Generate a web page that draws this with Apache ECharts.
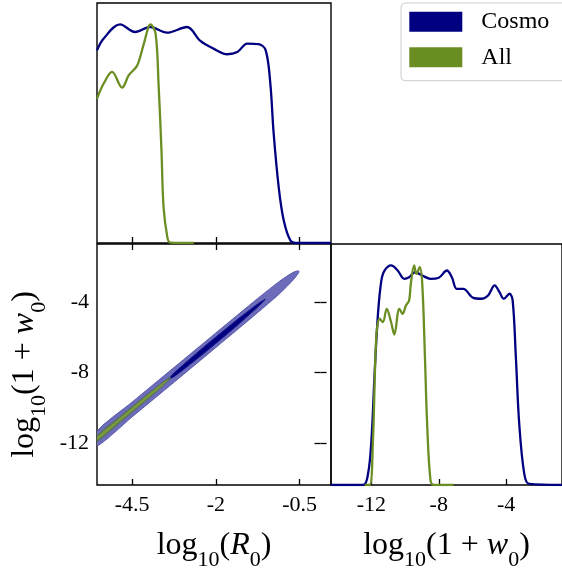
<!DOCTYPE html>
<html><head><meta charset="utf-8">
<script src="https://cdn.jsdelivr.net/npm/echarts@6/dist/echarts.min.js"></script>
<style>html,body{margin:0;padding:0;background:#fff}#c{width:562px;height:579px}</style>
</head><body><div id="c"></div>
<script>
// ---------- data ----------
const seriesNames = ['Cosmo', 'All'];
const seriesColors = ['#000080', '#6b8e23'];

const r0Ticks = [-4.5, -2.5, -0.5];
const r0TickLabels = ['-4.5', '-2', '-0.5'];
const wTicks = [-12, -8, -4];
const wTickLabels = ['-12', '-8', '-4'];
const r0Range = [-5.34, 0.25];
const wRange = [-14.4, -0.68];
const densRange = [0, 1.1];

// 1D marginal of log10(R0)
const cosmoR0X = [-5.34, -5.18, -4.79, -4.43, -4.07, -3.67, -3.19, -2.87, -2.56, -2.23, -1.99, -1.75, -1.48, -1.31, -1.2, -1.12, -1.0, -0.88, -0.72, -0.56, 0.25];
const cosmoR0Y = [0.883, 0.937, 1.002, 0.967, 0.990, 0.964, 0.990, 0.926, 0.891, 0.865, 0.875, 0.914, 0.911, 0.883, 0.732, 0.503, 0.257, 0.104, 0.012, 0.0, 0.0];
const allR0X = [-5.34, -5.18, -4.98, -4.74, -4.58, -4.38, -4.22, -4.06, -3.94, -3.87, -3.80, -3.75, -3.66, -3.59, -3.03];
const allR0Y = [0.662, 0.731, 0.784, 0.712, 0.769, 0.814, 0.914, 1.002, 0.960, 0.731, 0.425, 0.165, 0.027, 0.002, 0.0];

// 1D marginal of log10(1+w0)
const cosmoWX = [-14.4, -12.49, -12.2, -12.0, -11.81, -11.61, -11.41, -11.22, -10.83, -10.44, -10.05, -9.76, -9.41, -8.98, -8.49, -8.0, -7.52, -7.22, -6.93, -6.54, -5.95, -5.47, -5.07, -4.68, -4.39, -4.14, -3.80, -3.61, -3.42, -3.22, -2.92, -2.63, -0.68];
const cosmoWY = [0, 0, 0.051, 0.203, 0.508, 0.781, 0.933, 0.979, 1.002, 0.979, 0.941, 0.948, 0.971, 0.956, 0.941, 0.946, 0.979, 0.948, 0.895, 0.895, 0.854, 0.850, 0.865, 0.911, 0.880, 0.850, 0.873, 0.842, 0.583, 0.279, 0.051, 0.005, 0];
const allWX = [-12.4, -12.1, -11.91, -11.71, -11.51, -11.32, -11.09, -10.83, -10.64, -10.34, -10.15, -9.95, -9.76, -9.66, -9.46, -9.33, -9.13, -8.98, -8.82, -8.69, -8.49, -8.29, -7.12];
const allWY = [0, 0, 0.203, 0.675, 0.759, 0.743, 0.804, 0.743, 0.687, 0.804, 0.781, 0.819, 0.842, 0.918, 1.002, 0.964, 0.994, 0.918, 0.583, 0.279, 0.021, 0, 0];

// 2D contours (log10 R0, log10(1+w0)) vertices
const cosmoOuter = [[-5.34, -11.34], [-4.5, -9.68], [-3.5, -7.71], [-2.5, -5.74], [-1.5, -3.78], [-1.0, -2.84], [-0.75, -2.43], [-0.62, -2.26], [-0.54, -2.21], [-0.51, -2.25], [-0.54, -2.37], [-0.62, -2.63], [-0.75, -2.97], [-1.0, -3.55], [-1.5, -4.58], [-2.5, -6.57], [-3.5, -8.55], [-4.5, -10.52], [-5.34, -12.18]];
const cosmoInner = [[-3.64, -8.40], [-3.5, -8.03], [-3.2, -7.39], [-2.8, -6.57], [-2.4, -5.78], [-2.0, -5.00], [-1.7, -4.45], [-1.5, -4.09], [-1.32, -3.83], [-1.5, -4.27], [-1.7, -4.70], [-2.0, -5.34], [-2.4, -6.14], [-2.8, -6.93], [-3.2, -7.69], [-3.5, -8.23]];
const allOuter = [[-5.34, -11.60], [-4.8, -10.53], [-4.2, -9.36], [-3.8, -8.61], [-3.62, -8.31], [-3.58, -8.29], [-3.62, -8.41], [-3.8, -8.83], [-4.2, -9.66], [-4.8, -10.85], [-5.34, -11.92]];
const allInner = [[-5.34, -11.70], [-4.8, -10.63], [-4.2, -9.45], [-3.8, -8.68], [-3.66, -8.42], [-3.8, -8.76], [-4.2, -9.57], [-4.8, -10.75], [-5.34, -11.82]];

// ---------- chart ----------
const FONT = 'Liberation Serif';
const zip = (xs, ys) => xs.map((x, i) => [x, ys[i]]);
const labelOf = (ticks, labels) => v => { const i = ticks.findIndex(t => Math.abs(t - v) < 1e-6); return i >= 0 ? labels[i] : ''; };

const tickStyle = { show: true, inside: true, length: 6, lineStyle: { color: '#000', width: 1.3 } };
const richName = {
  m: { fontSize: 32, fontFamily: FONT, color: '#000', verticalAlign: 'middle' },
  i: { fontSize: 32, fontFamily: FONT, fontStyle: 'italic', color: '#000', verticalAlign: 'middle' },
  s: { fontSize: 22, fontFamily: FONT, color: '#000', verticalAlign: 'middle', padding: [28, 0, 0, 0] }
};

function xAxisDef(grid, range, ticks, labels, opts) {
  return Object.assign({
    type: 'value', gridIndex: grid, min: range[0], max: range[1], position: 'bottom',
    axisLine: { show: false }, splitLine: { show: false },
    axisTick: Object.assign({}, tickStyle, { customValues: ticks }),
    axisLabel: { show: false, customValues: ticks, formatter: labelOf(ticks, labels) }
  }, opts || {});
}
function densAxis(grid) {
  return { type: 'value', gridIndex: grid, min: densRange[0], max: densRange[1], axisLine: { show: false }, axisTick: { show: false }, axisLabel: { show: false }, splitLine: { show: false } };
}
const labelStyle = { show: true, fontSize: 22, fontFamily: FONT, color: '#000' };

function polySeries(name, pts, fill, stroke, z) {
  return {
    type: 'custom', name: name, coordinateSystem: 'cartesian2d', xAxisIndex: 1, yAxisIndex: 1,
    data: pts, encode: { x: 0, y: 1 }, z: z, silent: true, clip: true,
    renderItem: (params, api) => params.dataIndex === 0 ? {
      type: 'polygon', shape: { points: pts.map(p => api.coord(p)), smooth: 0.25 },
      style: { fill: fill, stroke: stroke, lineWidth: 1 }
    } : null
  };
}
function lineSeries(name, xi, yi, xs, ys, color, z) {
  return { type: 'line', name: name, xAxisIndex: xi, yAxisIndex: yi, data: zip(xs, ys), showSymbol: false, symbol: 'none',
    smooth: 0.35, lineStyle: { color: color, width: 2.3 }, itemStyle: { color: color }, z: z, silent: true };
}

const chart = echarts.init(document.getElementById('c'), null, { renderer: 'canvas' });
const gridBorder = { show: true, borderColor: '#000', borderWidth: 1.4, backgroundColor: 'transparent' };
chart.setOption({
  animation: false,
  grid: [
    Object.assign({ left: 97, top: 3, width: 234, height: 240 }, gridBorder),
    Object.assign({ left: 97, top: 244, width: 234, height: 241 }, gridBorder),
    Object.assign({ left: 331, top: 244, width: 234, height: 241 }, gridBorder)
  ],
  xAxis: [
    xAxisDef(0, r0Range, r0Ticks, r0TickLabels),
    xAxisDef(1, r0Range, r0Ticks, r0TickLabels, {
      axisLabel: Object.assign({}, labelStyle, { margin: 9, customValues: r0Ticks, formatter: labelOf(r0Ticks, r0TickLabels) }),
      name: '{m|log}{s|10}{m|(}{i|R}{s|0}{m|)}', nameLocation: 'middle', nameGap: 36, nameTextStyle: { rich: richName }
    }),
    xAxisDef(1, r0Range, r0Ticks, r0TickLabels, { position: 'top' }),
    xAxisDef(2, wRange, wTicks, wTickLabels, {
      axisLabel: Object.assign({}, labelStyle, { margin: 9, customValues: wTicks, formatter: labelOf(wTicks, wTickLabels) }),
      name: '{m|log}{s|10}{m|(1 + }{i|w}{s|0}{m|)}', nameLocation: 'middle', nameGap: 36, nameTextStyle: { rich: richName }
    })
  ],
  yAxis: [
    densAxis(0),
    {
      type: 'value', gridIndex: 1, min: wRange[0], max: wRange[1], position: 'left',
      axisLine: { show: false }, splitLine: { show: false },
      axisTick: Object.assign({}, tickStyle, { customValues: wTicks }),
      axisLabel: Object.assign({}, labelStyle, { margin: 8, customValues: wTicks, formatter: labelOf(wTicks, wTickLabels) }),
      name: '{m|log}{s|10}{m|(1 + }{i|w}{s|0}{m|)}', nameLocation: 'middle', nameRotate: 90, nameGap: 47,
      nameTextStyle: { rich: richName, padding: [0, 20, 0, 0] }
    },
    {
      type: 'value', gridIndex: 1, min: wRange[0], max: wRange[1], position: 'right',
      axisLine: { show: false }, splitLine: { show: false },
      axisTick: Object.assign({}, tickStyle, { customValues: wTicks }),
      axisLabel: { show: false }
    },
    densAxis(2)
  ],
  legend: {
    left: 401, top: 3, orient: 'vertical',
    padding: [5.7, 30, 10.4, 8.3],
    itemWidth: 53, itemHeight: 20, itemGap: 9.6,
    borderColor: '#cccccc', borderWidth: 1, borderRadius: 4, backgroundColor: '#fff',
    textStyle: { fontSize: 24, fontFamily: FONT, color: '#000', lineHeight: 26, padding: [0, 0, 0, 14] },
    data: [
      { name: seriesNames[0], icon: 'rect', itemStyle: { color: seriesColors[0], borderWidth: 0 } },
      { name: seriesNames[1], icon: 'rect', itemStyle: { color: seriesColors[1], borderWidth: 0 } }
    ],
    selectedMode: false
  },
  series: [
    lineSeries(seriesNames[0], 0, 0, cosmoR0X, cosmoR0Y, seriesColors[0], 3),
    lineSeries(seriesNames[1], 0, 0, allR0X, allR0Y, seriesColors[1], 4),
    polySeries(seriesNames[0], cosmoOuter, '#6c6cba', '#5858ad', 3),
    polySeries(seriesNames[0], cosmoInner, '#000080', '#1a1a8c', 4),
    polySeries(seriesNames[1], allOuter, '#5f7a52', '#55705a', 5),
    polySeries(seriesNames[1], allInner, '#7a9a3c', '#7a9a3c', 6),
    lineSeries(seriesNames[0], 3, 3, cosmoWX, cosmoWY, seriesColors[0], 3),
    lineSeries(seriesNames[1], 3, 3, allWX, allWY, seriesColors[1], 4)
  ]
});
</script>
</body></html>
